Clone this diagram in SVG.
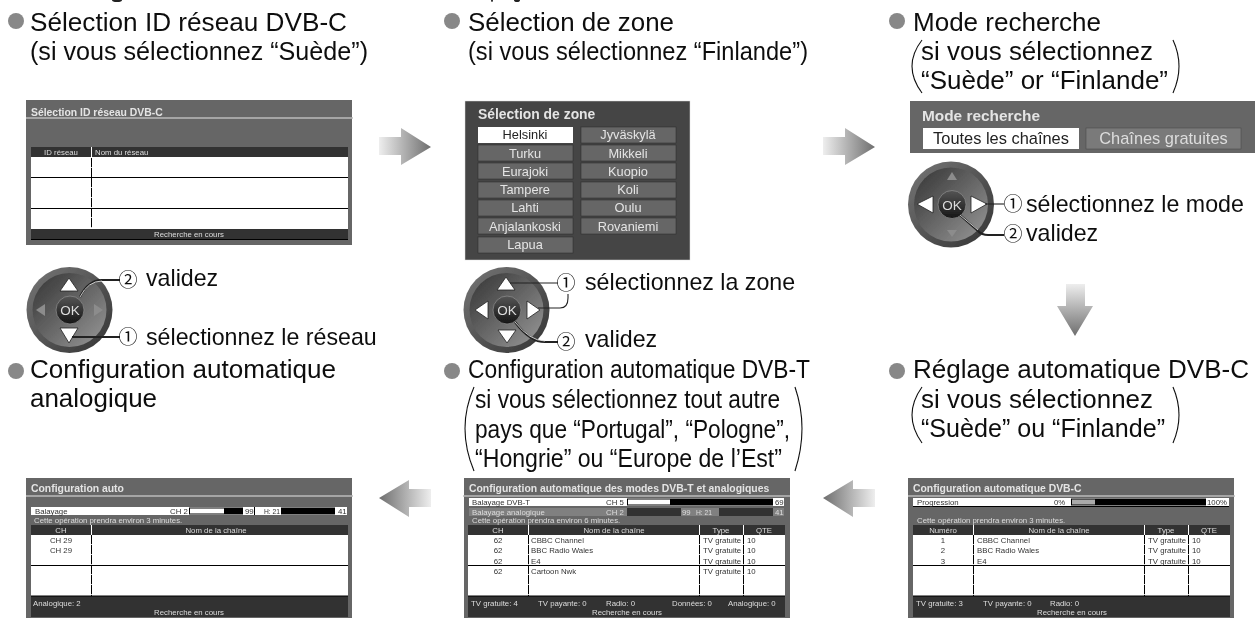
<svg xmlns="http://www.w3.org/2000/svg" width="1260" height="618" viewBox="0 0 1260 618">
<style>
text{font-family:"Liberation Sans",Arial,sans-serif}
.h{font-size:26px;fill:#111}
.l{font-size:23.2px;fill:#111}
.n{font-family:"Noto Sans CJK JP","Liberation Sans",sans-serif;font-size:19px;fill:#111}
.pn{fill:#666}
.tt{font-weight:bold;font-size:10.4px;fill:#e4e4e4}
.sep{stroke:#bbb;stroke-width:1.5}
.hd{fill:#333}
.wh{fill:#fff}
.s{font-size:7.8px;fill:#333}
.sl{font-size:7.8px;fill:#ddd}
.m{text-anchor:middle}
.v{stroke:#000;stroke-width:1;stroke-dasharray:9.2 .8}
.hl{stroke:#000;stroke-width:1}
.vw{stroke:#fff;stroke-width:1}
.par{fill:none;stroke:#111;stroke-width:1.1}
.bl{fill:#888}
.lead{fill:none;stroke:#222;stroke-width:1.1}
.leadw{fill:none;stroke:#222;stroke-width:2.2}
.leadi{fill:none;stroke:#eee;stroke-width:.8}
.btn{fill:#666;stroke:#333;stroke-width:.6}
.bt{font-size:12.8px;fill:#e4e4e4;text-anchor:middle}
.ring{fill:url(#gRing)}
.disc{fill:url(#gDisc)}
.ok{fill:url(#gOk);stroke:#888;stroke-width:.8}
.okt{font-size:13.5px;fill:#ddd;text-anchor:middle}
.tw{fill:#fff;stroke:#222;stroke-width:.8}
.tg{fill:#8c8c8c}
.sc{filter:url(#soft)}
.so{filter:url(#softer)}
</style>
<defs>
<filter id="soft" x="-2%" y="-2%" width="104%" height="104%"><feGaussianBlur stdDeviation=".4"/></filter>
<filter id="softer" x="-2%" y="-2%" width="104%" height="104%"><feGaussianBlur stdDeviation=".25"/></filter>
<linearGradient id="gR" x1="0" x2="1" y1="0" y2="0"><stop offset="0" stop-color="#eee"/><stop offset="1" stop-color="#6e6e6e"/></linearGradient>
<linearGradient id="gL" x1="1" x2="0" y1="0" y2="0"><stop offset="0" stop-color="#eee"/><stop offset="1" stop-color="#6e6e6e"/></linearGradient>
<linearGradient id="gD" x1="0" x2="0" y1="0" y2="1"><stop offset="0" stop-color="#eee"/><stop offset="1" stop-color="#6e6e6e"/></linearGradient>
<linearGradient id="gRing" x1="0" x2="1" y1="0" y2="1"><stop offset="0" stop-color="#777"/><stop offset="1" stop-color="#333"/></linearGradient>
<linearGradient id="gDisc" x1="0" x2="1" y1="0" y2="1"><stop offset="0" stop-color="#333"/><stop offset="1" stop-color="#999"/></linearGradient>
<linearGradient id="gOk" x1="0" x2="0" y1="0" y2="1"><stop offset="0" stop-color="#555"/><stop offset="1" stop-color="#151515"/></linearGradient>
</defs>

<g id="cropped-top-edge" fill="#222">
<ellipse cx="117" cy="0" rx="5" ry="2"/><ellipse cx="492" cy="0" rx="1" ry="2"/><ellipse cx="517" cy="0" rx="3" ry="2"/>
</g>

<g id="connectors">
<path d="M379 137H401V128L431 147 401 165V155H379Z" fill="url(#gR)"/>
<path d="M823 137H845V128L875 147 845 165V155H823Z" fill="url(#gR)"/>
<path d="M1066 284H1085V306H1093L1075 336 1057 306H1066Z" fill="url(#gD)"/>
<path d="M431 489H409V480L379 498 409 517V507H431Z" fill="url(#gL)"/>
<path d="M875 489H853V480L823 498 853 517V507H875Z" fill="url(#gL)"/>
</g>

<g id="head1" class="so">
<circle class="bl" cx="16" cy="21" r="8"/>
<text class="h" x="30" y="31" textLength="317" lengthAdjust="spacingAndGlyphs">Sélection ID réseau DVB-C</text>
<text class="h" x="30" y="60" textLength="338" lengthAdjust="spacingAndGlyphs">(si vous sélectionnez “Suède”)</text>
</g>
<g id="head2" class="so">
<circle class="bl" cx="452" cy="21" r="8"/>
<text class="h" x="468" y="31" textLength="206" lengthAdjust="spacingAndGlyphs">Sélection de zone</text>
<text class="h" x="468" y="60" textLength="340" lengthAdjust="spacingAndGlyphs">(si vous sélectionnez “Finlande”)</text>
</g>
<g id="head3" class="so">
<circle class="bl" cx="897" cy="21" r="8"/>
<text class="h" x="913" y="31" textLength="188" lengthAdjust="spacingAndGlyphs">Mode recherche</text>
<text class="h" x="921" y="60" textLength="232" lengthAdjust="spacingAndGlyphs">si vous sélectionnez</text>
<text class="h" x="921" y="89" textLength="247" lengthAdjust="spacingAndGlyphs">“Suède” or “Finlande”</text>
<path class="par" d="M922 40Q902 66 922 93M1173 40Q1185 66 1173 93"/>
</g>
<g id="head4" class="so">
<circle class="bl" cx="16" cy="371" r="8"/>
<text class="h" x="30" y="378" textLength="306" lengthAdjust="spacingAndGlyphs">Configuration automatique</text>
<text class="h" x="30" y="407" textLength="127" lengthAdjust="spacingAndGlyphs">analogique</text>
</g>
<g id="head5" class="so">
<circle class="bl" cx="452" cy="371" r="8"/>
<text class="h" x="468" y="378" textLength="342" lengthAdjust="spacingAndGlyphs">Configuration automatique DVB-T</text>
<text class="h" x="475" y="408" textLength="305" lengthAdjust="spacingAndGlyphs">si vous sélectionnez tout autre</text>
<text class="h" x="475" y="438" textLength="315" lengthAdjust="spacingAndGlyphs">pays que “Portugal”, “Pologne”,</text>
<text class="h" x="475" y="467" textLength="307" lengthAdjust="spacingAndGlyphs">“Hongrie” ou “Europe de l’Est”</text>
<path class="par" d="M474 387Q456 428 474 471M795 387Q809 428 795 471"/>
</g>
<g id="head6" class="so">
<circle class="bl" cx="897" cy="371" r="8"/>
<text class="h" x="913" y="378" textLength="336" lengthAdjust="spacingAndGlyphs">Réglage automatique DVB-C</text>
<text class="h" x="921" y="408" textLength="232" lengthAdjust="spacingAndGlyphs">si vous sélectionnez</text>
<text class="h" x="921" y="437" textLength="244" lengthAdjust="spacingAndGlyphs">“Suède” ou “Finlande”</text>
<path class="par" d="M922 387Q902 415 922 443M1173 387Q1185 415 1173 443"/>
</g>

<g id="screen-dvbc-id" class="sc">
<rect class="pn" x="26" y="100" width="326" height="145"/>
<text class="tt" x="31" y="115.5">Sélection ID réseau DVB-C</text>
<line class="sep" x1="26" x2="353" y1="118" y2="118"/>
<rect class="hd" x="31" y="147" width="317" height="10"/>
<rect class="wh" x="31" y="157" width="317" height="72"/>
<rect class="hd" x="31" y="229" width="317" height="10"/>
<line class="hl" x1="31" x2="348" y1="177.5" y2="177.5"/>
<line class="hl" x1="31" x2="348" y1="208.5" y2="208.5"/>
<line class="hl" x1="31" x2="348" y1="239.5" y2="239.5"/>
<line class="vw" x1="91.5" x2="91.5" y1="147" y2="157"/>
<line class="v" x1="91.5" x2="91.5" y1="158" y2="228"/>
<text class="sl m" x="61" y="155">ID réseau</text>
<text class="sl" x="95" y="155">Nom du réseau</text>
<text class="sl m" x="189" y="237">Recherche en cours</text>
</g>

<g id="screen-zone" class="so">
<rect x="465" y="101" width="225" height="159" fill="#444" stroke="#ddd" stroke-width=".5"/>
<text x="478" y="119" style="font-weight:bold;font-size:13.9px;fill:#e4e4e4">Sélection de zone</text>
<rect x="478" y="127" width="95" height="16" fill="#fff"/><text class="bt" style="fill:#222" x="525" y="139">Helsinki</text>
<rect class="btn" x="581" y="127" width="95" height="16"/><text class="bt" x="628" y="139">Jyväskylä</text>
<rect class="btn" x="478" y="145" width="95" height="16"/><text class="bt" x="525" y="158">Turku</text>
<rect class="btn" x="581" y="145" width="95" height="16"/><text class="bt" x="628" y="158">Mikkeli</text>
<rect class="btn" x="478" y="163" width="95" height="16"/><text class="bt" x="525" y="176">Eurajoki</text>
<rect class="btn" x="581" y="163" width="95" height="16"/><text class="bt" x="628" y="176">Kuopio</text>
<rect class="btn" x="478" y="182" width="95" height="16"/><text class="bt" x="525" y="194">Tampere</text>
<rect class="btn" x="581" y="182" width="95" height="16"/><text class="bt" x="628" y="194">Koli</text>
<rect class="btn" x="478" y="200" width="95" height="16"/><text class="bt" x="525" y="212">Lahti</text>
<rect class="btn" x="581" y="200" width="95" height="16"/><text class="bt" x="628" y="212">Oulu</text>
<rect class="btn" x="478" y="218" width="95" height="16"/><text class="bt" x="525" y="231">Anjalankoski</text>
<rect class="btn" x="581" y="218" width="95" height="16"/><text class="bt" x="628" y="231">Rovaniemi</text>
<rect class="btn" x="478" y="237" width="95" height="16"/><text class="bt" x="525" y="249">Lapua</text>
</g>

<g id="screen-mode" class="so">
<rect class="pn" x="910" y="101" width="345" height="52"/>
<text x="922" y="121" style="font-weight:bold;font-size:15.4px;fill:#e4e4e4">Mode recherche</text>
<rect x="923" y="128" width="156" height="21" fill="#fff"/><text class="bt" style="fill:#222;font-size:16.4px" x="1001" y="143.5">Toutes les chaînes</text>
<rect x="1086" y="128" width="155" height="21" fill="#7a7a7a" stroke="#444" stroke-width=".5"/><text class="bt" style="fill:#ddd;font-size:16.4px" x="1163.5" y="143.5">Chaînes gratuites</text>
</g>

<g id="remote1" class="so">
<circle class="ring" cx="69.5" cy="310" r="43"/><circle class="disc" cx="69.5" cy="310" r="37"/>
<path class="tw" d="M69 278L78 291H60Z"/><path class="tw" d="M69 343L78 328H60Z"/>
<path class="tg" d="M36 310L45 304V316Z"/><path class="tg" d="M103 310L94 304V316Z"/>
<circle class="ok" cx="70" cy="310" r="14"/><text class="okt" x="70" y="315">OK</text>
<path class="leadw" d="M80 297Q88 280 102 280H120"/><path class="leadi" d="M80 297Q88 281 102 281"/>
<path class="leadw" d="M72 337H120"/>
<text class="n" x="118.5" y="287">②</text><text class="l" x="146" y="286">validez</text>
<text class="n" x="118.5" y="344">①</text><text class="l" x="146" y="345">sélectionnez le réseau</text>
</g>
<g id="remote2" class="so">
<circle class="ring" cx="506.5" cy="310" r="43"/><circle class="disc" cx="506.5" cy="310" r="37"/>
<path class="tw" d="M506 277L515 290H497Z"/><path class="tw" d="M507 343L516 330H498Z"/>
<path class="tw" d="M475 310L488 301V319Z"/><path class="tw" d="M540 310L527 301V319Z"/>
<circle class="ok" cx="507" cy="310" r="14"/><text class="okt" x="507" y="315">OK</text>
<path class="lead" d="M510 283H558"/><path class="lead" d="M538 308H560Q568 308 568 298V294"/>
<path class="leadw" d="M515 322Q530 342 545 342H558"/><path class="leadi" d="M515 322Q530 341 545 341"/>
<text class="n" x="556.5" y="290">①</text><text class="l" x="585" y="290">sélectionnez la zone</text>
<text class="n" x="556.5" y="349">②</text><text class="l" x="585" y="347">validez</text>
</g>
<g id="remote3" class="so">
<circle class="ring" cx="951" cy="204.5" r="43"/><circle class="disc" cx="951" cy="204.5" r="37"/>
<path class="tg" d="M952 172L957 180H947Z"/><path class="tg" d="M952 237L957 230H947Z"/>
<path class="tw" d="M917 204L933 196V213Z"/><path class="tw" d="M987 204L971 196V213Z"/>
<circle class="ok" cx="952" cy="204.5" r="14"/><text class="okt" x="952" y="210">OK</text>
<path class="lead" d="M985 204H1004"/>
<path class="leadw" d="M960 215L978 231Q982 235 988 235H1004"/><path class="leadi" d="M960 215L978 230"/>
<text class="n" x="1003.5" y="211">①</text><text class="l" x="1026" y="212">sélectionnez le mode</text>
<text class="n" x="1003.5" y="241">②</text><text class="l" x="1026" y="241">validez</text>
</g>

<g id="screen-auto" class="sc">
<rect class="pn" x="26" y="478" width="326" height="140"/>
<text class="tt" x="31" y="492">Configuration auto</text>
<line class="sep" x1="26" x2="353" y1="496" y2="496"/>
<rect class="wh" x="31" y="507" width="316" height="8"/>
<text class="s" x="35" y="514">Balayage</text><text class="s" x="170" y="514">CH 2</text>
<rect x="189" y="507.5" width="54" height="7" fill="#000"/><rect x="190" y="508.5" width="34" height="5" fill="#fff"/>
<text class="s" x="245" y="514">99</text><line class="hl" x1="254.5" x2="254.5" y1="507" y2="515"/>
<rect x="281" y="507.5" width="54" height="7" fill="#000"/><text class="s" x="338" y="514">41</text>
<text class="s" x="264" y="514" textLength="16" lengthAdjust="spacingAndGlyphs">H: 21</text>
<text class="sl" x="34" y="523">Cette opération prendra environ 3 minutes.</text>
<rect class="hd" x="31" y="525" width="317" height="10"/>
<rect class="wh" x="31" y="535" width="317" height="61"/>
<rect class="hd" x="31" y="596" width="317" height="21"/>
<line class="hl" x1="31" x2="348" y1="565.5" y2="565.5"/><line class="hl" x1="31" x2="348" y1="596" y2="596"/>
<line class="vw" x1="91.5" x2="91.5" y1="525" y2="535"/><line class="v" x1="91.5" x2="91.5" y1="535" y2="596"/>
<text class="sl m" x="61" y="533">CH</text><text class="sl m" x="216" y="533">Nom de la chaîne</text>
<text class="s m" x="61" y="543">CH 29</text><text class="s m" x="61" y="553">CH 29</text>
<text class="sl" x="33" y="606">Analogique: 2</text>
<text class="sl m" x="189" y="615">Recherche en cours</text>
</g>

<g id="screen-dvbt" class="sc">
<rect class="pn" x="464" y="478" width="326" height="140"/>
<text class="tt" x="469" y="492">Configuration automatique des modes DVB-T et analogiques</text>
<line class="sep" x1="463" x2="790" y1="496" y2="496"/>
<rect class="wh" x="469" y="498" width="315" height="8"/>
<text class="s" x="472" y="505">Balayage DVB-T</text><text class="s" x="606" y="505">CH 5</text>
<rect x="627" y="498.5" width="146" height="7" fill="#000"/><rect x="628" y="499.5" width="42" height="5" fill="#fff"/>
<text class="s" x="775" y="505">69</text>
<rect x="469" y="508" width="315" height="8" fill="#808080"/>
<text class="sl" x="472" y="515">Balayage analogique</text><text class="sl" x="606" y="515">CH 2</text>
<rect x="627" y="508" width="54" height="8" fill="#333"/><text class="sl" x="682" y="515">99</text>
<rect x="719" y="508" width="54" height="8" fill="#333"/><text class="sl" x="775" y="515">41</text>
<text class="sl" x="696" y="515" textLength="16" lengthAdjust="spacingAndGlyphs">H: 21</text>
<text class="sl" x="472" y="523">Cette opération prendra environ 6 minutes.</text>
<rect class="hd" x="468" y="525" width="317" height="10"/>
<rect class="wh" x="468" y="535" width="317" height="61"/>
<rect class="hd" x="468" y="596" width="317" height="21"/>
<line class="hl" x1="468" x2="785" y1="565.5" y2="565.5"/><line class="hl" x1="468" x2="785" y1="596" y2="596"/>
<line class="vw" x1="528.5" x2="528.5" y1="525" y2="535"/><line class="vw" x1="699.5" x2="699.5" y1="525" y2="535"/><line class="vw" x1="743.5" x2="743.5" y1="525" y2="535"/>
<line class="v" x1="528.5" x2="528.5" y1="535" y2="596"/><line class="v" x1="699.5" x2="699.5" y1="535" y2="596"/><line class="v" x1="743.5" x2="743.5" y1="535" y2="596"/>
<text class="sl m" x="498" y="533">CH</text><text class="sl m" x="614" y="533">Nom de la chaîne</text><text class="sl m" x="721" y="533">Type</text><text class="sl m" x="764" y="533">QTE</text>
<text class="s m" x="498" y="543">62</text><text class="s" x="531" y="543">CBBC Channel</text><text class="s" x="703" y="543">TV gratuite</text><text class="s" x="747" y="543">10</text>
<text class="s m" x="498" y="553">62</text><text class="s" x="531" y="553">BBC Radio Wales</text><text class="s" x="703" y="553">TV gratuite</text><text class="s" x="747" y="553">10</text>
<text class="s m" x="498" y="564">62</text><text class="s" x="531" y="564">E4</text><text class="s" x="703" y="564">TV gratuite</text><text class="s" x="747" y="564">10</text>
<text class="s m" x="498" y="574">62</text><text class="s" x="531" y="574">Cartoon Nwk</text><text class="s" x="703" y="574">TV gratuite</text><text class="s" x="747" y="574">10</text>
<text class="sl" x="471" y="606">TV gratuite: 4</text><text class="sl" x="538" y="606">TV payante: 0</text><text class="sl" x="606" y="606">Radio: 0</text><text class="sl" x="672" y="606">Données: 0</text><text class="sl" x="728" y="606">Analogique: 0</text>
<text class="sl m" x="627" y="615">Recherche en cours</text>
</g>

<g id="screen-dvbc" class="sc">
<rect class="pn" x="908" y="478" width="326" height="140"/>
<text class="tt" x="913" y="492">Configuration automatique DVB-C</text>
<line class="sep" x1="908" x2="1235" y1="496" y2="496"/>
<rect class="wh" x="913" y="498" width="316" height="8"/>
<line class="hl" x1="913" x2="1229" y1="506.5" y2="506.5"/>
<text class="s" x="917" y="505">Progression</text><text class="s" x="1054" y="505">0%</text>
<rect x="1071" y="498.5" width="135" height="7" fill="#000"/><rect x="1072" y="499.5" width="23" height="5" fill="#aaa"/>
<text class="s" x="1207" y="505">100%</text>
<text class="sl" x="917" y="523">Cette opération prendra environ 3 minutes.</text>
<rect class="hd" x="913" y="525" width="317" height="10"/>
<rect class="wh" x="913" y="535" width="317" height="61"/>
<rect class="hd" x="913" y="596" width="317" height="21"/>
<line class="hl" x1="913" x2="1230" y1="565.5" y2="565.5"/><line class="hl" x1="913" x2="1230" y1="596" y2="596"/>
<line class="vw" x1="973.5" x2="973.5" y1="525" y2="535"/><line class="vw" x1="1144.5" x2="1144.5" y1="525" y2="535"/><line class="vw" x1="1188.5" x2="1188.5" y1="525" y2="535"/>
<line class="v" x1="973.5" x2="973.5" y1="535" y2="596"/><line class="v" x1="1144.5" x2="1144.5" y1="535" y2="596"/><line class="v" x1="1188.5" x2="1188.5" y1="535" y2="596"/>
<text class="sl m" x="943" y="533">Numéro</text><text class="sl m" x="1059" y="533">Nom de la chaîne</text><text class="sl m" x="1166" y="533">Type</text><text class="sl m" x="1209" y="533">QTE</text>
<text class="s m" x="943" y="543">1</text><text class="s" x="977" y="543">CBBC Channel</text><text class="s" x="1148" y="543">TV gratuite</text><text class="s" x="1192" y="543">10</text>
<text class="s m" x="943" y="553">2</text><text class="s" x="977" y="553">BBC Radio Wales</text><text class="s" x="1148" y="553">TV gratuite</text><text class="s" x="1192" y="553">10</text>
<text class="s m" x="943" y="564">3</text><text class="s" x="977" y="564">E4</text><text class="s" x="1148" y="564">TV gratuite</text><text class="s" x="1192" y="564">10</text>
<text class="sl" x="916" y="606">TV gratuite: 3</text><text class="sl" x="983" y="606">TV payante: 0</text><text class="sl" x="1050" y="606">Radio: 0</text>
<text class="sl m" x="1072" y="615">Recherche en cours</text>
</g>
</svg>
